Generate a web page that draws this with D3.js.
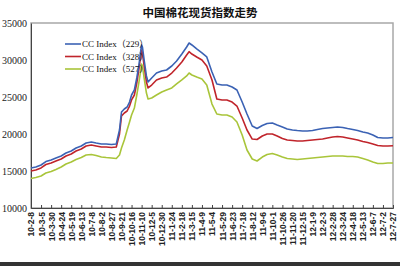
<!DOCTYPE html>
<html>
<head>
<meta charset="utf-8">
<script src="https://cdn.jsdelivr.net/npm/d3@7/dist/d3.min.js"></script>
<style>
  body { margin: 0; background: #fff; }
  svg { display: block; }
</style>
</head>
<body>
<div id="grafico"></div>
<script>
// DATOS
var fechas = [
  '2010-02-08','2010-02-20','2010-03-05','2010-03-17','2010-03-30','2010-04-11','2010-04-24','2010-05-06','2010-05-19','2010-05-31',
  '2010-06-13','2010-06-25','2010-07-08','2010-07-20','2010-08-02','2010-08-14','2010-08-27','2010-09-08','2010-09-16','2010-09-21',
  '2010-09-28','2010-10-05','2010-10-11','2010-10-16','2010-10-23','2010-10-29','2010-11-03','2010-11-08','2010-11-10','2010-11-12',
  '2010-11-17','2010-11-22','2010-11-26','2010-12-05','2010-12-17','2010-12-30',
  '2011-01-11','2011-01-24','2011-02-05','2011-02-18','2011-03-02','2011-03-08','2011-03-15','2011-03-27','2011-04-09','2011-04-21',
  '2011-05-04','2011-05-16','2011-05-29','2011-06-10','2011-06-23','2011-07-05','2011-07-18','2011-07-30','2011-08-12','2011-08-24',
  '2011-09-06','2011-09-18','2011-10-01','2011-10-13','2011-10-26','2011-11-07','2011-11-20','2011-12-02','2011-12-15','2011-12-27',
  '2012-01-09','2012-01-21','2012-02-03','2012-02-15','2012-02-28','2012-03-11','2012-03-24','2012-04-05','2012-04-18','2012-04-30',
  '2012-05-13','2012-05-25','2012-06-07','2012-06-19','2012-07-02','2012-07-14','2012-07-27'
];

var cc229 = [
  15400,15540,15810,16280,16490,16760,17030,17430,17700,18110,18380,18780,18920,18780,18650,18650,18580,18650,20540,22970,
  23380,23650,24320,25270,25950,27570,29190,31350,32030,31760,29730,27840,27030,27570,28240,28510,
  28650,29190,29870,30810,31760,32300,32030,31490,30950,30410,28380,26760,26620,26620,26350,25950,24320,22700,21080,20740,
  21150,21420,21490,21220,20950,20680,20540,20470,20410,20410,
  20470,20610,20740,20810,20880,20950,20880,20740,20610,20470,20270,20140,19870,19530,19460,19460,19530
];
var cc328 = [
  15000,15140,15410,15880,16080,16350,16620,17030,17300,17700,17970,18380,18510,18380,18240,18240,18180,18240,20000,22430,
  22840,23110,23780,24600,25270,26890,28650,30680,31350,30950,28920,27030,26220,26620,27300,27570,
  27700,28240,28920,29730,30680,31120,30810,30410,30000,29190,27300,24730,24600,24600,24320,23780,22160,20540,19320,19260,
  19730,20000,20000,19730,19390,19190,19120,19050,19050,19120,
  19190,19260,19320,19460,19600,19660,19600,19460,19320,19190,18990,18850,18650,18450,18380,18380,18420
];
var cc527 = [
  13990,14120,14320,14730,14930,15200,15540,15950,16220,16550,16820,17160,17230,17090,16890,16820,16760,16690,17160,18110,
  19190,20540,21620,22570,23510,25270,26890,28650,29460,29190,27300,25540,24730,24870,25270,25680,
  25950,26220,26760,27300,27840,28240,27970,27700,27430,26620,24050,22700,22570,22570,22300,21620,19870,17840,16620,16350,
  16890,17230,17360,17160,16890,16690,16620,16550,16620,16690,
  16760,16820,16890,16960,17030,17030,17030,16960,16960,16890,16690,16490,16220,16010,16010,16080,16080
];

var nombresSeries = ['CC Index\uFF08229\uFF09', 'CC Index\uFF08328\uFF09', 'CC Index\uFF08527\uFF09'];
var coloresSeries = ['#3b62b4', '#c0242b', '#a9c53a'];

var etiquetasX = [
  '2010-02-08','2010-03-05','2010-03-30','2010-04-24','2010-05-19','2010-06-13','2010-07-08','2010-08-02','2010-08-27','2010-09-21',
  '2010-10-16','2010-11-10','2010-12-05','2010-12-30','2011-01-24','2011-02-18','2011-03-15','2011-04-09','2011-05-04','2011-05-29',
  '2011-06-23','2011-07-18','2011-08-12','2011-09-06','2011-10-01','2011-10-26','2011-11-20','2011-12-15','2012-01-09','2012-02-03',
  '2012-02-28','2012-03-24','2012-04-18','2012-05-13','2012-06-07','2012-07-02','2012-07-27'
];
var ticksY = [10000, 15000, 20000, 25000, 30000, 35000];
var titulo = '中国棉花现货指数走势';

// TAMAÑO
var ancho = 400, alto = 266;
var izq = 31, der = 393, arriba = 23, abajo = 208;
var parseTime = d3.timeParse('%Y-%m-%d');
var formato = function (d) { return d3.timeFormat('%y')(d) + '-' + (d.getMonth() + 1) + '-' + d.getDate(); };

var svg = d3.select('#grafico').append('svg')
  .attr('width', ancho)
  .attr('height', alto);

svg.append('rect').attr('width', ancho).attr('height', alto).attr('fill', '#fff');

// ---------ESCALAS------------
var scale_x = d3.scaleTime()
  .domain([parseTime(etiquetasX[0]), parseTime(etiquetasX[etiquetasX.length - 1])])
  .range([izq, der]);

var scale_y = d3.scaleLinear()
  .domain([ticksY[0], ticksY[ticksY.length - 1]])
  .range([abajo, arriba]);

// marco del area del grafico
svg.append('rect')
  .attr('x', izq).attr('y', arriba)
  .attr('width', der - izq).attr('height', abajo - arriba)
  .attr('fill', 'none')
  .attr('stroke', '#a8a8a8')
  .attr('stroke-width', 1.5);

// EJE Y
var ejeY = svg.append('g')
  .attr('transform', 'translate(' + izq + ',0)')
  .call(d3.axisLeft(scale_y).tickValues(ticksY).tickSize(0).tickPadding(4).tickFormat(d3.format('d')));
ejeY.select('.domain').attr('stroke', '#444');
ejeY.selectAll('text')
  .attr('font-family', '"Liberation Serif", "Times New Roman", serif')
  .attr('font-size', 10)
  .attr('fill', '#222');

// EJE X
var ejeX = svg.append('g')
  .attr('transform', 'translate(0,' + abajo + ')')
  .call(d3.axisBottom(scale_x).tickValues(etiquetasX.map(parseTime)).tickSize(-3).tickFormat(formato));
ejeX.select('.domain').attr('stroke', '#444');
ejeX.selectAll('.tick line').attr('stroke', '#444');
ejeX.selectAll('text')
  .attr('transform', 'rotate(-90)')
  .attr('text-anchor', 'end')
  .attr('x', -4)
  .attr('y', 0)
  .attr('dy', '0.35em')
  .attr('font-family', '"Liberation Sans", Arial, sans-serif')
  .attr('font-weight', 'bold')
  .attr('font-size', 8.5)
  .attr('fill', '#222');

// -------Lineas------
var datos = [cc229, cc328, cc527];
var linea = d3.line()
  .x(function (d, i) { return scale_x(parseTime(fechas[i])); })
  .y(function (d) { return scale_y(d); });

for (var s = datos.length - 1; s >= 0; s--) {
  svg.append('path')
    .attr('d', linea(datos[s]))
    .attr('fill', 'none')
    .attr('stroke', coloresSeries[s])
    .attr('stroke-width', 1.6)
    .attr('stroke-linejoin', 'round');
}

// LEYENDA
var leyenda = svg.append('g').attr('transform', 'translate(65,44)');
nombresSeries.forEach(function (n, i) {
  leyenda.append('line')
    .attr('x1', 0).attr('x2', 16)
    .attr('y1', i * 12.5).attr('y2', i * 12.5)
    .attr('stroke', coloresSeries[i])
    .attr('stroke-width', 1.6);
  leyenda.append('text')
    .attr('x', 17)
    .attr('y', i * 12.5)
    .attr('dy', '0.35em')
    .attr('font-family', '"Liberation Serif", "Noto Sans CJK SC", serif')
    .attr('font-size', 9)
    .attr('fill', '#111')
    .text(n);
});

// TITULO
svg.append('text')
  .attr('x', 200)
  .attr('y', 17)
  .attr('text-anchor', 'middle')
  .attr('font-family', '"Noto Sans CJK SC", sans-serif')
  .attr('font-weight', 'bold')
  .attr('font-size', 11.5)
  .attr('fill', '#111')
  .text(titulo);

// barra inferior
svg.append('rect')
  .attr('x', 0).attr('y', 262)
  .attr('width', ancho).attr('height', 4)
  .attr('fill', '#333');
</script>
</body>
</html>
